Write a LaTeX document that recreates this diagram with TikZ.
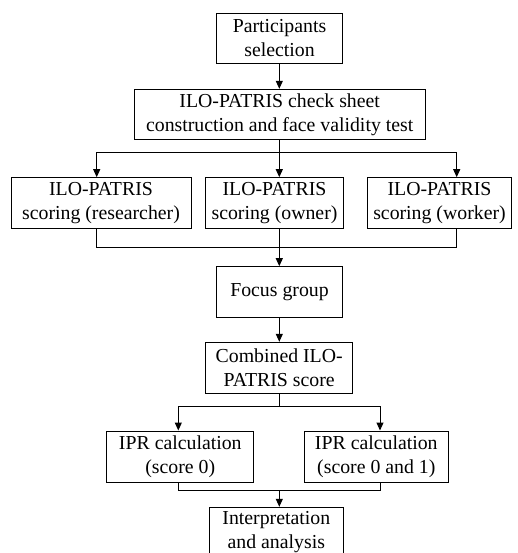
\documentclass[tikz,border=0pt]{standalone}
\usepackage{fontspec}
\setmainfont{Liberation Serif}
\usetikzlibrary{arrows.meta}
\begin{document}
\begin{tikzpicture}[x=1pt,y=-1pt,
  box/.style={draw,line width=1pt,inner sep=0pt,align=center,
    font=\fontsize{19.8}{24}\selectfont},
  conn/.style={line width=1pt},
  arr/.style={conn,-{Triangle[length=8pt,width=7pt]}}]
\useasboundingbox (0,0) rectangle (517,553);
\clip (0,0) rectangle (517,553);
\node[box,minimum width=125.6pt,minimum height=50pt] (p) at (279.5,38.3) {Participants\\selection};
\node[box,minimum width=290.7pt,minimum height=50pt] (c) at (279.7,114.3) {ILO-PATRIS check sheet\\construction and face validity test};
\node[box,minimum width=180pt,minimum height=51pt] (r1) at (101,203.2) {ILO-PATRIS\\scoring (researcher)};
\node[box,minimum width=137.6pt,minimum height=51pt] (r2) at (274.5,203.2) {ILO-PATRIS\\scoring (owner)};
\node[box,minimum width=144.4pt,minimum height=51pt] (r3) at (439.5,203.2) {ILO-PATRIS\\scoring (worker)};
\node[box,minimum width=125.6pt,minimum height=50.6pt] (f) at (279.5,292) {Focus group};
\node[box,minimum width=147pt,minimum height=51pt] (cb) at (279.2,367.8) {Combined ILO-\\PATRIS score};
\node[box,minimum width=147.3pt,minimum height=51pt] (i1) at (180.3,456.5) {IPR calculation\\(score 0)};
\node[box,minimum width=144pt,minimum height=51pt] (i2) at (376.3,456.5) {IPR calculation\\(score 0 and 1)};
\node[box,minimum width=134pt,minimum height=50pt] (ia) at (276.3,532.3) {Interpretation\\and analysis};
% coordinates
\coordinate (b1) at (279.3,152.3);
\coordinate (b1l) at (96.7,152.3);
\coordinate (b1r) at (456.7,152.3);
\coordinate (m1) at (279.3,247.3);
\coordinate (m1l) at (96.7,247.3);
\coordinate (m1r) at (456.7,247.3);
\coordinate (b2) at (279.3,406);
\coordinate (b2l) at (178.3,406);
\coordinate (b2r) at (380,406);
\coordinate (m2) at (279.3,490);
\coordinate (m2l) at (178.3,490);
\coordinate (m2r) at (380,490);
% connectors
\draw[arr] (p.south -| b1) -- (c.north -| b1);
\draw[conn] (c.south -| b1) -- (b1);
\draw[conn] (b1l) -- (b1r);
\draw[arr] (b1l) -- (r1.north -| b1l);
\draw[arr] (b1) -- (r2.north -| b1);
\draw[arr] (b1r) -- (r3.north -| b1r);
\draw[conn] (r1.south -| m1l) -- (m1l) -- (m1r) -- (r3.south -| m1r);
\draw[conn] (r2.south -| m1) -- (m1);
\draw[arr] (m1) -- (f.north -| m1);
\draw[arr] (f.south -| m1) -- (cb.north -| m1);
\draw[conn] (cb.south -| b2) -- (b2);
\draw[conn] (b2l) -- (b2r);
\draw[arr] (b2l) -- (i1.north -| b2l);
\draw[arr] (b2r) -- (i2.north -| b2r);
\draw[conn] (i1.south -| m2l) -- (m2l) -- (m2r) -- (i2.south -| m2r);
\draw[arr] (m2) -- (ia.north -| m2);
\end{tikzpicture}
\end{document}
